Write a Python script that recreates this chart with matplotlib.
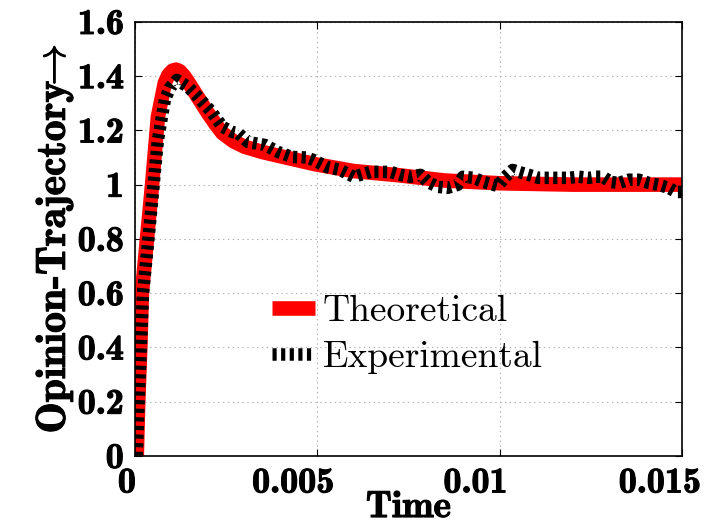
import numpy as np
import matplotlib
matplotlib.use("Agg")
import matplotlib.pyplot as plt
import matplotlib.patheffects as pe
import matplotlib.transforms as mtrans

# Datos
t_teo = [0.00005, 0.00009, 0.000146, 0.00019, 0.00033, 0.00047, 0.00063, 0.00082,
         0.00092, 0.00103, 0.00113, 0.00123, 0.00135, 0.0015, 0.00165, 0.0020,
         0.0022, 0.0024, 0.0027, 0.0030, 0.0035, 0.0043, 0.00495, 0.0060,
         0.0072, 0.0085, 0.0100, 0.0120, 0.0150]
v_teo = [0.0, 0.2, 0.4, 0.6, 0.8, 1.0, 1.25, 1.375,
         1.405, 1.42, 1.424, 1.418, 1.40, 1.37, 1.338, 1.264,
         1.225, 1.19, 1.16, 1.14, 1.12, 1.095, 1.075, 1.05,
         1.035, 1.015, 1.005, 1.0, 1.0]

t_exp = [0.00005, 0.0001, 0.00016, 0.00022, 0.00037, 0.00050, 0.00055, 0.00063,
         0.00082, 0.00096, 0.00115, 0.00146, 0.00173, 0.0021, 0.0024, 0.00267,
         0.00283, 0.0031, 0.00357, 0.00393, 0.0043, 0.00470, 0.00489, 0.00527,
         0.00563, 0.0060, 0.00618, 0.00646, 0.00673, 0.0070, 0.00728, 0.00755,
         0.00783, 0.00803, 0.0083, 0.00857, 0.00885, 0.0090, 0.00928, 0.00956,
         0.00995, 0.01016, 0.01036, 0.01052, 0.0108, 0.01107, 0.01134, 0.01162,
         0.0119, 0.01217, 0.01245, 0.01264, 0.01283, 0.01305, 0.01327, 0.01354,
         0.01382, 0.0141, 0.01437, 0.01464, 0.01484, 0.01503]
v_exp = [0.0, 0.2, 0.4, 0.6, 0.8, 0.98, 1.054, 1.165,
         1.312, 1.357, 1.386, 1.36, 1.323, 1.268, 1.213, 1.194,
         1.19, 1.157, 1.146, 1.12, 1.102, 1.10, 1.091, 1.065,
         1.054, 1.029, 1.036, 1.047, 1.047, 1.047, 1.036, 1.029,
         1.036, 1.01, 0.992, 0.988, 0.999, 1.029, 1.025, 1.01,
         0.995, 1.029, 1.054, 1.047, 1.036, 1.025, 1.025, 1.025,
         1.025, 1.029, 1.025, 1.029, 1.029, 1.01, 1.006, 1.018,
         1.018, 1.006, 0.999, 0.988, 0.973, 0.973]

xticks = [0, 0.005, 0.01, 0.015]
xlabels = ["0", "0.005", "0.01", "0.015"]
yticks = [0, 0.2, 0.4, 0.6, 0.8, 1.0, 1.2, 1.4, 1.6]
ylabels = ["0", "0.2", "0.4", "0.6", "0.8", "1", "1.2", "1.4", "1.6"]

plt.rcParams["mathtext.fontset"] = "cm"
plt.rcParams["axes.unicode_minus"] = False
plt.rcParams["lines.scale_dashes"] = False

negrita = [pe.withStroke(linewidth=0.8, foreground="black")]

fig = plt.figure(figsize=(7.14, 5.27), dpi=100)
ax = fig.add_axes([0.189, 0.135, 0.766, 0.8235])

ax.plot(t_teo, v_teo, color="red", linewidth=10.5, solid_capstyle="butt",
        solid_joinstyle="round", label="Theoretical")
ax.plot(t_exp, v_exp, color="black", linewidth=9, dashes=(3, 3.2),
        dash_capstyle="butt", label="Experimental")

ax.set_xlim(0, 0.015)
ax.set_ylim(0, 1.6)
ax.set_xticks(xticks)
ax.set_xticklabels(xlabels)
ax.set_yticks(yticks)
ax.set_yticklabels(ylabels)

ax.tick_params(direction="in", length=5, width=0.8, top=True, right=True,
               color="black")
ax.tick_params(axis="x", pad=9)
ax.tick_params(axis="y", pad=8)

for lab in ax.get_xticklabels() + ax.get_yticklabels():
    lab.set_fontfamily("cmb10")
    lab.set_fontsize(26)
    lab.set_path_effects(negrita)

# corrimiento de las etiquetas en x (como en la figura original)
desp = [-8, -24, -24, -22]
for lab, d in zip(ax.get_xticklabels(), desp):
    lab.set_transform(lab.get_transform() +
                      mtrans.ScaledTranslation(d / 100, 0, fig.dpi_scale_trans))

ax.grid(True, linestyle=(0, (1, 2.5)), color="#b0b0b0", linewidth=0.8)
for s in ax.spines.values():
    s.set_linewidth(1.2)

ax.set_xlabel("Time", fontfamily="cmb10", fontsize=27, labelpad=-6,
              path_effects=negrita)
ax.set_ylabel(r"Opinion-Trajectory$\!\!\rightarrow$", fontfamily="cmb10",
              fontsize=30, labelpad=2, path_effects=negrita)

leg = ax.legend(loc="upper left", bbox_to_anchor=(0.216, 0.415), frameon=False,
                prop={"family": "cmr10", "size": 27}, handlelength=1.15,
                handletextpad=0.2, labelspacing=0.35, borderpad=0.0)

fig.savefig("out.png", dpi=100)
